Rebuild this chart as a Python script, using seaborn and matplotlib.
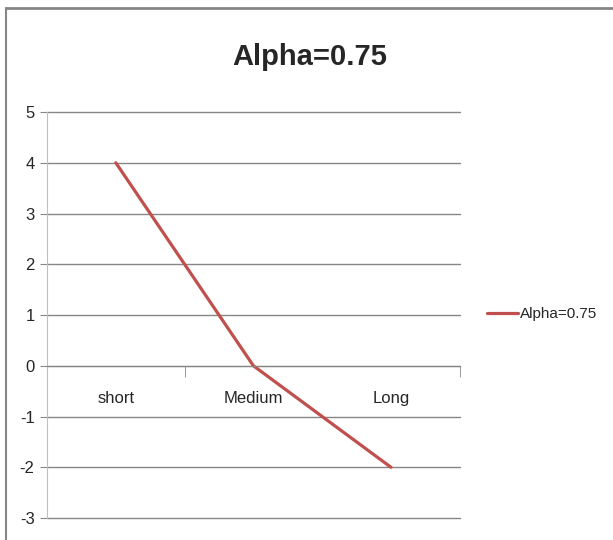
import seaborn as sns
import matplotlib.pyplot as plt
import pandas as pd
from matplotlib.lines import Line2D
from matplotlib.ticker import FixedLocator

categories = ['short', 'Medium', 'Long']
alpha_values = [4, 0, -2]
series_name = 'Alpha=0.75'
y_ticks = [-3, -2, -1, 0, 1, 2, 3, 4, 5]

df = pd.DataFrame({'length': categories, 'value': alpha_values})

sns.set_style('white')
plt.rcParams['font.family'] = ['Liberation Sans', 'DejaVu Sans']

fig = plt.figure(figsize=(6.13, 5.4), dpi=100)
ax = fig.add_axes([0.0767, 0.0407, 0.6733, 0.7519])

sns.lineplot(data=df, x='length', y='value', ax=ax, label=series_name,
             color='#C0504D', linewidth=2.3, sort=False)

ax.set_ylim(-3, 5)
ax.set_xlim(-0.5, 2.5)
ax.set_yticks(y_ticks)
ax.set_yticklabels([str(v) for v in y_ticks])
ax.set_xticks(range(len(categories)))
ax.set_xticklabels(categories)
ax.xaxis.set_minor_locator(FixedLocator([0.5, 2.5]))

# gridlines and axes in Excel style
ax.grid(axis='y', color='#868686', linewidth=1)
ax.set_axisbelow(True)
for gl in ax.get_ygridlines():
    gl.set_clip_on(False)
for side in ['top', 'right']:
    ax.spines[side].set_visible(False)
ax.spines['left'].set_color('#BFBFBF')
ax.spines['bottom'].set_position(('data', 0))
ax.spines['bottom'].set_color('#868686')
ax.tick_params(axis='y', left=True, length=5, color='#868686', labelsize=12, pad=4)
ax.tick_params(axis='x', which='major', bottom=True, length=0, labelsize=12, pad=18)
ax.tick_params(axis='x', which='minor', bottom=True, length=8, direction='out',
               color='#868686')
ax.set_xlabel('')
ax.set_ylabel('')

fig.suptitle(series_name, x=0.505, y=0.92, fontsize=21, fontweight='bold')

ax.legend(loc='center left', bbox_to_anchor=(0.785, 0.418),
          bbox_transform=fig.transFigure, frameon=False, fontsize=11,
          handlelength=2.0, handletextpad=0.15, borderaxespad=0)

# chart frame (top and left edges)
fig.add_artist(Line2D([0.0098, 1.0], [0.986, 0.986], transform=fig.transFigure,
                      color='#868686', linewidth=2))
fig.add_artist(Line2D([0.0098, 0.0098], [0.0, 0.986], transform=fig.transFigure,
                      color='#868686', linewidth=1.5))

fig.savefig('out.png', dpi=100)
